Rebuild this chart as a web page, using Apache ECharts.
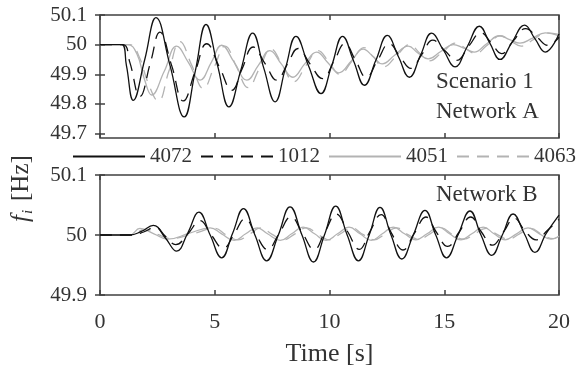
<!DOCTYPE html>
<html>
<head>
<meta charset="utf-8">
<script src="https://cdn.jsdelivr.net/npm/echarts@6/dist/echarts.min.js"></script>
<style>html,body{margin:0;padding:0;background:#fff}#c{width:588px;height:368px}</style>
</head>
<body>
<div id="c"></div>
<script>
// ---- data (time [s], frequency [Hz]) ----
const seriesNames = ['4072', '1012', '4051', '4063'];
const xTicks = [0, 5, 10, 15, 20];
const topYTicks = [49.7, 49.8, 49.9, 50, 50.1];
const botYTicks = [49.9, 50, 50.1];

const topA4072 = [[0,50],[0.95,50],[1.15,49.93],[1.45,49.812],[1.95,49.95],[2.44,50.091],[3.05,49.93],[3.67,49.756],[4.15,49.91],[4.62,50.068],[5.12,49.93],[5.62,49.79],[6.14,49.915],[6.65,50.039],[7.14,49.92],[7.63,49.807],[8.08,49.92],[8.54,50.028],[9.08,49.93],[9.63,49.835],[10.1,49.93],[10.57,50.028],[11.05,49.945],[11.52,49.863],[12.02,49.947],[12.52,50.031],[13.0,49.96],[13.48,49.89],[13.97,49.965],[14.45,50.039],[14.96,49.982],[15.47,49.925],[16.0,49.993],[16.53,50.062],[16.98,50.006],[17.43,49.95],[17.95,50.008],[18.5,50.066],[18.95,50.02],[19.4,49.975],[20,50.037]];
const topA1012 = [[0,50],[1.0,50],[1.3,49.94],[1.74,49.825],[2.2,49.94],[2.61,50.042],[3.12,49.93],[3.63,49.81],[4.15,49.91],[4.65,50.003],[5.2,49.925],[5.75,49.846],[6.2,49.92],[6.67,49.992],[7.2,49.935],[7.7,49.88],[8.17,49.935],[8.63,49.987],[9.15,49.935],[9.7,49.885],[10.2,49.945],[10.67,50.003],[11.13,49.948],[11.6,49.89],[12.1,49.948],[12.6,50.003],[13.07,49.96],[13.55,49.92],[14.03,49.968],[14.5,50.015],[15.02,49.98],[15.54,49.947],[16.07,49.995],[16.6,50.04],[17.05,50.005],[17.5,49.97],[18.0,50.012],[18.55,50.054],[19.05,50.025],[19.5,49.998],[20,50.025]];
const topA4051 = [[0,50],[1.2,50],[1.6,49.97],[1.95,49.88],[2.25,49.83],[2.8,49.91],[3.34,49.995],[3.85,49.94],[4.36,49.88],[4.85,49.94],[5.3,49.998],[5.85,49.94],[6.4,49.88],[6.9,49.93],[7.4,49.98],[7.9,49.935],[8.4,49.89],[8.92,49.935],[9.44,49.975],[9.92,49.94],[10.4,49.905],[10.95,49.945],[11.47,49.985],[11.9,49.96],[12.3,49.935],[12.85,49.965],[13.43,49.995],[13.85,49.972],[14.3,49.952],[14.85,49.977],[15.4,50.0],[15.85,49.988],[16.3,49.975],[16.85,50.003],[17.4,50.03],[17.85,50.017],[18.3,50.005],[18.85,50.022],[19.4,50.04],[20,50.03]];
const topA4063 = [[0,50],[1.3,50],[1.7,49.96],[2.1,49.87],[2.54,49.81],[3.0,49.91],[3.49,50.01],[4.0,49.93],[4.5,49.852],[4.98,49.925],[5.45,49.995],[5.95,49.925],[6.45,49.855],[6.95,49.92],[7.45,49.985],[7.95,49.93],[8.45,49.875],[8.98,49.93],[9.5,49.98],[9.98,49.94],[10.45,49.9],[10.98,49.945],[11.5,49.99],[11.92,49.958],[12.35,49.925],[12.92,49.962],[13.5,50.0],[13.92,49.972],[14.35,49.945],[14.92,49.975],[15.5,50.005],[15.92,49.988],[16.35,49.97],[16.9,50.0],[17.45,50.03],[17.9,50.012],[18.35,49.995],[18.9,50.018],[19.45,50.04],[20,50.035]];

const botB4072 = [[0,50],[1.3,50],[1.8,50.006],[2.32,50.016],[2.85,49.995],[3.34,49.973],[3.82,50.003],[4.31,50.038],[4.8,50.0],[5.3,49.962],[5.78,50.003],[6.25,50.044],[6.75,50.0],[7.26,49.957],[7.77,50.0],[8.28,50.047],[8.8,50.0],[9.3,49.955],[9.78,50.0],[10.27,50.048],[10.77,50.0],[11.26,49.957],[11.73,50.0],[12.2,50.046],[12.68,50.0],[13.15,49.96],[13.65,50.0],[14.16,50.041],[14.63,50.0],[15.1,49.962],[15.6,50.0],[16.12,50.04],[16.6,50.0],[17.07,49.966],[17.53,50.0],[18.0,50.035],[18.48,50.003],[18.95,49.971],[19.45,50.003],[20,50.033]];
const botB1012 = [[0,50],[1.4,50],[1.9,50.005],[2.4,50.013],[2.85,49.998],[3.3,49.984],[3.85,50.003],[4.36,50.024],[4.85,50.0],[5.37,49.978],[5.85,50.002],[6.32,50.027],[6.8,50.0],[7.3,49.976],[7.8,50.002],[8.32,50.03],[8.82,50.003],[9.33,49.976],[9.8,50.005],[10.3,50.035],[10.8,50.005],[11.3,49.976],[11.75,50.005],[12.25,50.034],[12.7,50.003],[13.2,49.975],[13.7,50.003],[14.2,50.03],[14.65,50.005],[15.15,49.981],[15.65,50.005],[16.15,50.03],[16.62,50.005],[17.1,49.983],[17.58,50.005],[18.05,50.028],[18.5,50.008],[19.0,49.992],[19.5,50.008],[20,50.026]];
const botB4051 = [[0,50],[1.3,50],[1.74,50.011],[2.35,50.002],[2.95,49.993],[3.9,50.003],[4.8,50.012],[5.3,50.002],[5.85,49.991],[6.35,50.002],[6.85,50.012],[7.3,50.002],[7.85,49.991],[8.35,50.002],[8.85,50.013],[9.35,50.002],[9.85,49.991],[10.35,50.002],[10.85,50.013],[11.33,50.002],[11.82,49.991],[12.3,50.002],[12.78,50.013],[13.27,50.002],[13.76,49.992],[14.25,50.002],[14.75,50.013],[15.23,50.002],[15.72,49.992],[16.2,50.002],[16.7,50.013],[17.17,50.002],[17.65,49.992],[18.15,50.002],[18.65,50.012],[19.15,50.002],[19.65,49.993],[20,49.998]];
const botB4063 = [[0,50],[1.4,50],[1.9,50.009],[2.5,50.001],[3.1,49.994],[4.05,50.002],[5.0,50.011],[5.5,50.0],[6.02,49.992],[6.5,50.001],[7.0,50.012],[7.5,50.001],[8.0,49.992],[8.5,50.002],[9.0,50.012],[9.5,50.001],[10.0,49.992],[10.48,50.002],[10.97,50.012],[11.45,50.001],[11.95,49.992],[12.43,50.002],[12.92,50.012],[13.4,50.001],[13.9,49.993],[14.38,50.002],[14.87,50.012],[15.35,50.001],[15.85,49.993],[16.33,50.002],[16.82,50.011],[17.3,50.001],[17.8,49.993],[18.28,50.002],[18.77,50.011],[19.25,50.001],[19.75,49.994],[20,49.998]];

const panelTexts = ['Scenario 1', 'Network A', 'Network B'];

// ---- chart ----
const FONT = '"Liberation Serif", "DejaVu Serif", serif';
const TXT = '#333';
const AX = '#404040';
const styles = {
  '4072': {color: '#111', type: 'solid'},
  '1012': {color: '#111', type: [12, 8]},
  '4051': {color: '#b3b3b3', type: 'solid'},
  '4063': {color: '#b3b3b3', type: [12, 8]}
};

function xAx(gridIndex, pos, showLabels) {
  return {
    type: 'value', gridIndex, position: pos, min: 0, max: 20, interval: 5,
    axisLine: {show: false}, splitLine: {show: false},
    axisTick: {show: true, inside: true, length: 5, lineStyle: {color: AX, width: 1.5}},
    axisLabel: {show: showLabels, color: TXT, fontFamily: FONT, fontSize: 22, margin: 16},
    name: showLabels ? 'Time [s]' : '', nameLocation: 'middle', nameGap: 46,
    nameTextStyle: {color: TXT, fontFamily: FONT, fontSize: 26}
  };
}
function yAx(gridIndex, pos, min, max, ticks, showLabels) {
  return {
    type: 'value', gridIndex, position: pos, min, max,
    axisLine: {show: false}, splitLine: {show: false},
    axisTick: {show: true, inside: true, length: 5, customValues: ticks, lineStyle: {color: AX, width: 1.5}},
    axisLabel: {show: showLabels, customValues: ticks, color: TXT, fontFamily: FONT, fontSize: 21, margin: 13,
      formatter: v => String(Math.round(v * 10) / 10)}
  };
}

const dataMap = [
  {'4072': topA4072, '1012': topA1012, '4051': topA4051, '4063': topA4063},
  {'4072': botB4072, '1012': botB1012, '4051': botB4051, '4063': botB4063}
];
const drawOrder = ['4051', '4063', '1012', '4072'];
const series = [];
[0, 1].forEach(g => {
  drawOrder.forEach(n => {
    series.push({
      name: n, type: 'line', xAxisIndex: g * 2, yAxisIndex: g * 2,
      data: dataMap[g][n], smooth: 0.45, showSymbol: false, symbol: 'none',
      lineStyle: {color: styles[n].color, type: styles[n].type, width: 1.3},
      itemStyle: {color: styles[n].color},
      animation: false, z: n === '4072' ? 5 : 3
    });
  });
});

const chart = echarts.init(document.getElementById('c'), null, {renderer: 'canvas'});
chart.setOption({
  animation: false,
  backgroundColor: '#fff',
  grid: [
    {left: 100, top: 15, width: 459, height: 123, show: true, borderColor: AX, borderWidth: 1.5, backgroundColor: 'transparent'},
    {left: 100, top: 175, width: 459, height: 122, show: true, borderColor: AX, borderWidth: 1.5, backgroundColor: 'transparent'}
  ],
  xAxis: [xAx(0, 'bottom', false), xAx(0, 'top', false), xAx(1, 'bottom', true), xAx(1, 'top', false)],
  yAxis: [
    yAx(0, 'left', 49.685, 50.1, topYTicks, true), yAx(0, 'right', 49.685, 50.1, topYTicks, false),
    yAx(1, 'left', 49.9, 50.1, botYTicks, true), yAx(1, 'right', 49.9, 50.1, botYTicks, false)
  ],
  legend: {
    data: seriesNames, left: 72, top: 146, itemWidth: 72, itemHeight: 14, itemGap: 8,
    itemStyle: {opacity: 0},
    textStyle: {color: TXT, fontFamily: FONT, fontSize: 21}, padding: 0
  },
  graphic: [
    {type: 'text', x: 436, y: 82, style: {text: panelTexts[0], font: '23px ' + FONT, fill: TXT, textAlign: 'left', textVerticalAlign: 'middle'}},
    {type: 'text', x: 436, y: 112, style: {text: panelTexts[1], font: '23px ' + FONT, fill: TXT, textAlign: 'left', textVerticalAlign: 'middle'}},
    {type: 'text', x: 436, y: 195, style: {text: panelTexts[2], font: '23px ' + FONT, fill: TXT, textAlign: 'left', textVerticalAlign: 'middle'}},
    {type: 'group', x: 21, y: 180, rotation: Math.PI / 2, children: [
      {type: 'text', x: -42, y: 0, style: {text: 'f', font: 'italic 25px ' + FONT, fill: TXT, textAlign: 'left', textVerticalAlign: 'middle'}},
      {type: 'text', x: -34, y: 7, style: {text: 'i', font: 'italic 15px ' + FONT, fill: TXT, textAlign: 'left', textVerticalAlign: 'middle'}},
      {type: 'text', x: -21, y: 0, style: {text: '[Hz]', font: '25px ' + FONT, fill: TXT, textAlign: 'left', textVerticalAlign: 'middle'}}
    ]}
  ],
  series
});
</script>
</body>
</html>
